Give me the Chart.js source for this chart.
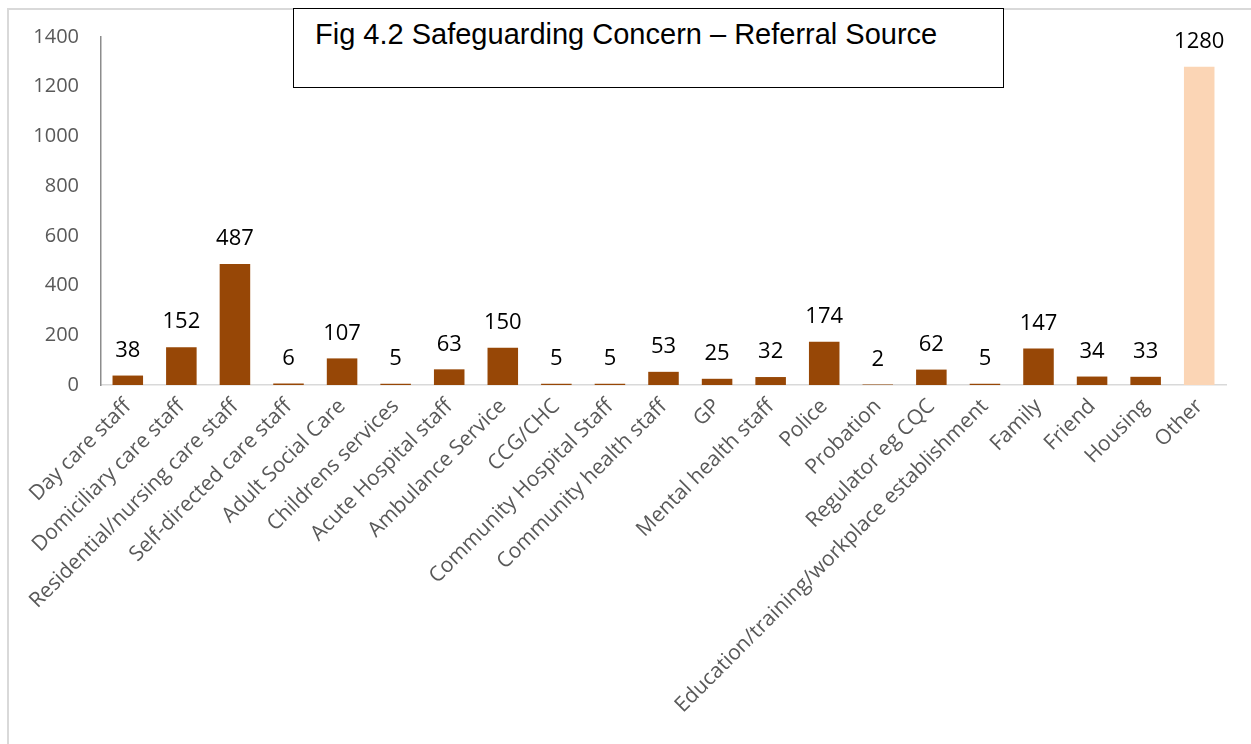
<!DOCTYPE html>
<html>
<head>
<meta charset="utf-8">
<script src="https://cdn.jsdelivr.net/npm/chart.js@4.4.1/dist/chart.umd.min.js"></script>
<style>
    html, body { margin: 0; padding: 0; background: #fff; overflow: hidden; }
    #wrap  { position: relative; width: 1251px; height: 744px; }
    #frame { position: absolute; left: 7px; top: 8px; width: 1400px; height: 900px;
             border: 2px solid #d9d9d9; box-sizing: border-box; }
    #title { position: absolute; left: 293px; top: 8px; width: 711px; height: 80px;
             border: 1.5px solid #000; box-sizing: border-box; background: #fff;
             font-family: "Liberation Sans", Arial, sans-serif; font-size: 29px;
             color: #000; padding: 9px 0 0 21px; z-index: 2; white-space: nowrap; }
    canvas { position: absolute; left: 0; top: 0; }
</style>
</head>
<body>
<div id="wrap">
    <div id="frame"></div>
    <canvas id="chart" width="1251" height="744"></canvas>
    <div id="title">Fig 4.2 Safeguarding Concern – Referral Source</div>
</div>
<script>
// ─── Data ────────────────────────────────────────────────────────────────────
const CATEGORIES = [
    "Day care staff", "Domiciliary care staff", "Residential/nursing care staff",
    "Self-directed care staff", "Adult Social Care", "Childrens services",
    "Acute Hospital staff", "Ambulance Service", "CCG/CHC", "Community Hospital Staff",
    "Community health staff", "GP", "Mental health staff", "Police", "Probation",
    "Regulator eg CQC", "Education/training/workplace establishment", "Family",
    "Friend", "Housing", "Other",
];
const VALUES = [38, 152, 487, 6, 107, 5, 63, 150, 5, 5, 53, 25, 32, 174, 2, 62, 5, 147, 34, 33, 1280];
const Y_TICKS = [0, 200, 400, 600, 800, 1000, 1200, 1400];

const BROWN = "#974706";
const PEACH = "#fbd5b5";
const BAR_COLORS = CATEGORIES.map(c => c === "Other" ? PEACH : BROWN);
const FONT = "'Open Sans', 'Noto Sans', sans-serif";

// ─── Value labels above each bar ─────────────────────────────────────────────
const valueLabels = {
    id: "valueLabels",
    afterDatasetsDraw(chart) {
        const { ctx } = chart;
        const meta = chart.getDatasetMeta(0);
        ctx.save();
        ctx.font = "22px " + FONT;
        ctx.fillStyle = "#000";
        ctx.textAlign = "center";
        ctx.textBaseline = "middle";
        meta.data.forEach((bar, i) => {
            ctx.fillText(String(VALUES[i]), bar.x, bar.y - 25);
        });
        ctx.restore();
    },
};

new Chart(document.getElementById("chart"), {
    type: "bar",
    data: {
        labels: CATEGORIES,
        datasets: [{
            data: VALUES,
            backgroundColor: BAR_COLORS,
            barPercentage: 0.57,
            categoryPercentage: 1.0,
        }],
    },
    options: {
        responsive: false,
        animation: false,
        events: [],
        layout: { padding: { left: 0, right: 25, top: 37, bottom: 0 } },
        plugins: {
            legend: { display: false },
            tooltip: { enabled: false },
        },
        scales: {
            x: {
                grid: { display: false, drawTicks: false },
                border: { color: "#d9d9d9", width: 1.5 },
                ticks: {
                    color: "#595959",
                    font: { family: FONT, size: 21 },
                    minRotation: 45, maxRotation: 45,
                    autoSkip: false,
                    padding: 9,
                },
                afterFit: s => { s.height = 744 - 385; },
            },
            y: {
                min: 0, max: 1400,
                afterBuildTicks: s => { s.ticks = Y_TICKS.map(v => ({ value: v })); },
                grid: { display: false, drawTicks: false },
                border: { color: "#8c8c8c", width: 1.5 },
                ticks: {
                    color: "#595959",
                    font: { family: FONT, size: 20 },
                    padding: 22,
                    callback: v => String(v),
                },
                afterFit: s => { s.width = 101; },
            },
        },
    },
    plugins: [valueLabels],
});
</script>
</body>
</html>
